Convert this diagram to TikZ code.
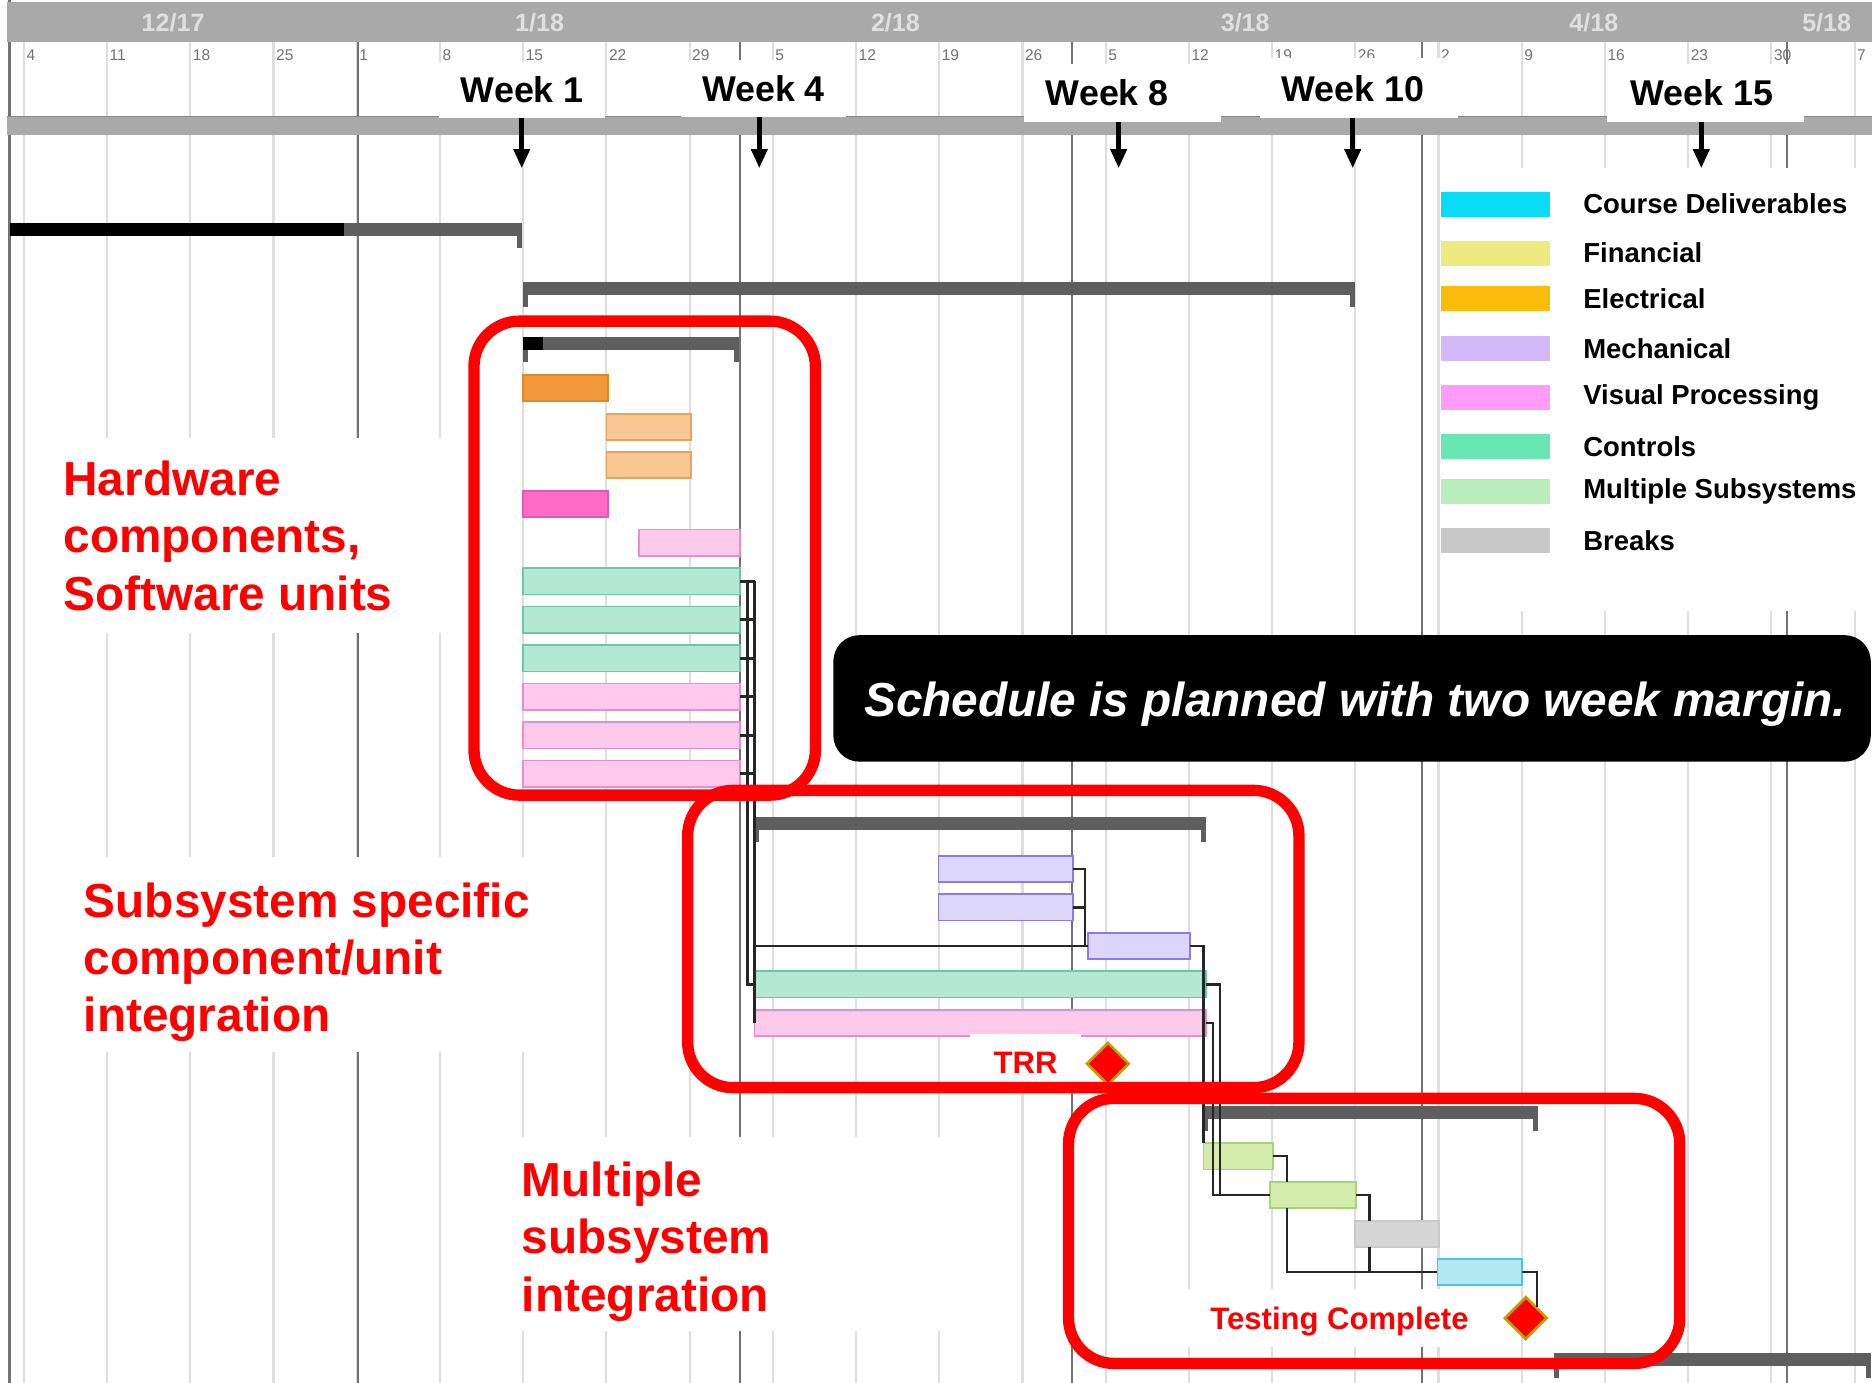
\documentclass[tikz,border=0pt]{standalone}
\usepackage{fontspec}
\setmainfont{Liberation Sans}
\usetikzlibrary{arrows.meta,shapes.geometric}
\definecolor{gridlt}{HTML}{DEDEDE}
\definecolor{griddk}{HTML}{727272}
\definecolor{bandgray}{HTML}{A9A9A9}
\definecolor{sumgray}{HTML}{5E5E5E}
\definecolor{msgold}{HTML}{BFA200}
% bar fills (F) and borders (D)
\definecolor{elecdoneF}{HTML}{F0983A}\definecolor{elecdoneD}{HTML}{E3862A}
\definecolor{elecF}{HTML}{F8C894}\definecolor{elecD}{HTML}{E9A35A}
\definecolor{visdoneF}{HTML}{FF6CC8}\definecolor{visdoneD}{HTML}{E455B4}
\definecolor{visF}{HTML}{FFC9EC}\definecolor{visD}{HTML}{E98DCF}
\definecolor{ctrlF}{HTML}{B3E8D2}\definecolor{ctrlD}{HTML}{6DC79F}
\definecolor{mechF}{HTML}{DCD5FC}\definecolor{mechD}{HTML}{8A7BE6}
\definecolor{multF}{HTML}{D3ECAC}\definecolor{multD}{HTML}{A7D37B}
\definecolor{brkF}{HTML}{D6D6D6}\definecolor{brkD}{HTML}{C8C8C8}
\definecolor{delivF}{HTML}{B1E9F2}\definecolor{delivD}{HTML}{4EC5DC}
% legend swatches
\definecolor{keyA}{HTML}{0ADCF5}
\definecolor{keyB}{HTML}{EDEA80}
\definecolor{keyC}{HTML}{FBBB0A}
\definecolor{keyD}{HTML}{D3B8FA}
\definecolor{keyE}{HTML}{FF9BF9}
\definecolor{keyF}{HTML}{68E6B4}
\definecolor{keyG}{HTML}{B9EDBA}
\definecolor{keyH}{HTML}{C8C8C8}

\tikzset{
  wkline/.style={draw=gridlt,line width=1.8pt},
  monline/.style={draw=griddk,line width=1.8pt},
  mlabel/.style={inner sep=0,text=white!88!black,font=\fontsize{21}{21}\selectfont\bfseries},
  dlabel/.style={anchor=west,inner sep=0,text=black!55,font=\fontsize{13}{13}\selectfont},
  wkbox/.style={fill=white,inner sep=0,font=\fontsize{30}{30}\selectfont\bfseries},
  wkarrow/.style={-{Triangle[width=13pt,length=16pt]},line width=4pt},
  keytext/.style={anchor=west,inner sep=0,font=\fontsize{23}{23}\selectfont\bfseries},
  note/.style={anchor=north west,inner sep=0,align=left,text=red,
    font=\fontsize{40}{48}\selectfont\bfseries},
  task/.style={fill=#1F,draw=#1D,line width=1.5pt,anchor=west,minimum height=22pt,
    inner sep=0,outer sep=0},
  sumbar/.style={fill=sumgray,anchor=west,minimum height=11pt,inner sep=0,outer sep=0},
  link/.style={draw=black!85,line width=2pt},
  mstone/.style={diamond,fill=red,draw=msgold,line width=2.2pt,minimum size=36pt,inner sep=0},
  mslabel/.style={fill=white,inner sep=0,text=red,text depth=0pt,
    font=\fontsize{26}{26}\selectfont\bfseries},
  grp/.style={draw=red,line width=9.5pt,rounded corners=38pt}
}

\begin{document}
\begin{tikzpicture}[x=1pt,y=-1pt]
\useasboundingbox (0,0) rectangle (1568,1158);
\fill[white] (0,0) rectangle (1568,1158);

% week and month grid
\foreach \k in {0,...,22}
{\draw[wkline] ({20+69.7*\k},35)--({20+69.7*\k},1158);}
\foreach \x in {300,620,898,1191,1497}
{\draw[monline] (\x,35)--(\x,1158);}
\draw[monline] (8,0)--(8,1158);

% timescale header
\fill[bandgray] (6,2) rectangle (1568,35);
\fill[bandgray] (6,97) rectangle (1568,113);
\draw[bandgray!80!black,line width=1.5pt] (6,97.5)--(1568,97.5);
\foreach \x/\m/\yy [count=\i] in {145/12/17,452/1/18,750/2/18,1043/3/18,1335/4/18,1530/5/18}
{\node[mlabel] (mo\i) at (\x,19) {\m/\yy};}
\foreach \d [count=\k from 0] in {4,11,18,25,1,8,15,22,29,5,12,19,26,5,12,19,26,2,9,16,23,30,7}
{\node[dlabel] (dy\k) at ({22+69.7*\k},46) {\d};}

% week call-outs
\node[wkbox,minimum width=139pt,minimum height=47pt] (w1) at (437.5,75.5) {Week 1};
\node[wkbox,minimum width=139pt,minimum height=48pt] (w4) at (639.5,74) {Week 4};
\node[wkbox,minimum width=165pt,minimum height=48pt] (w8) at (940.5,78) {\hspace*{-26pt}Week 8};
\node[wkbox,minimum width=166pt,minimum height=50pt] (w10) at (1138,74) {\hspace*{-10pt}Week 10};
\node[wkbox,minimum width=165pt,minimum height=48pt] (w15) at (1428.5,78) {\hspace*{-6pt}Week 15};
\coordinate (t1) at (437,141);
\coordinate (t4) at (636,141);
\coordinate (t8) at (937,141);
\coordinate (t10) at (1133,141);
\coordinate (t15) at (1425,141);
\foreach \w in {1,4,8,10,15}
{\draw[wkarrow] (w\w.south -| t\w)--(t\w);}

% legend
\fill[white] (1208,141) rectangle (1568,512);
\foreach \y/\cl/\t [count=\i] in {171/keyA/Course Deliverables,212/keyB/Financial,
  250/keyC/Electrical,292/keyD/Mechanical,333/keyE/Visual Processing,
  374/keyF/Controls,412/keyG/Multiple Subsystems,453/keyH/Breaks}
{\fill[\cl] (1207,\y-10.5) rectangle (1298,\y+10.5);
 \node[keytext] (key\i) at (1326,\y) {\t};}

% phase notes
\fill[white] (35,367) rectangle (385,530);
\node[note] (hw) at (53,386) {Hardware\\components,\\Software units};
\fill[white] (50,718) rectangle (455,881);
\node[note] (ss) at (70,739) {Subsystem specific\\component/unit\\integration};
\fill[white] (430,952) rectangle (800,1115);
\node[note] (ms) at (437,973) {Multiple\\subsystem\\integration};

% summary bars
\node[sumbar,minimum width=429pt] (s0) at (8,192.5) {};
\fill (8,187) rectangle (288,198);
\node[sumbar,minimum width=697pt] (s1) at (438,241.5) {};
\node[sumbar,minimum width=181pt] (s2) at (438,287.5) {};
\fill (438,282) rectangle (455,293);
\node[sumbar,minimum width=378pt] (s3) at (632,689.5) {};
\node[sumbar,minimum width=280pt] (s4) at (1008,932) {};
\node[sumbar,minimum width=265pt] (s5) at (1302,1139) {};
\foreach \s in {s1,s2,s3,s4,s5}
{\fill[sumgray] (\s.south west) rectangle ++(4,10);}
\foreach \s in {s0,s1,s2,s3,s4,s5}
{\fill[sumgray] (\s.south east) rectangle ++(-4,10);}

% task bars
\foreach \nm/\cl/\xs/\len/\yc in {
  e1/elecdone/438/71/325, e2/elec/508/71/357.5, e3/elec/508/71/389.5,
  v1/visdone/438/71/422, v2/vis/535/85/454.5,
  c1/ctrl/438/182/487, c2/ctrl/438/182/519, c3/ctrl/438/182/551.5,
  v3/vis/438/182/583.5, v4/vis/438/182/616, v5/vis/438/182/648,
  m1/mech/786/113/728, m2/mech/786/113/760, m3/mech/911/86/792.5,
  cg/ctrl/632/378/824.5, vg/vis/632/378/857,
  i1/mult/1008/58/968.5, i2/mult/1064/72/1001,
  br/brk/1135/70/1033.5, cd/deliv/1204/71/1065.5}
{\node[task=\cl,minimum width=\len] (\nm) at (\xs,\yc) {};}

% links out of the first group
\foreach \r in {c1,c2,c3,v3,v4,v5}
{\draw[link] (\r.east)--++(12,0);}
\draw[link] (c1.east) ++(6,0) |- (cg.west);
\draw[link] (c1.east) ++(12,0) |- (vg.west);
\draw[link] (c1.east) ++(12,0) |- (m3.west);
% second group
\draw[link] (m1.east)--++(10,0) |- (m3.west);
\draw[link] (m2.east)--++(10,0) |- (m3.west);
\draw[link] (m3.east) -| (i1.north west);
\draw[link] (cg.east)--++(12,0) |- (i2.west);
\draw[link] (vg.east)--++(6,0) |- (i2.west);
% third group
\draw[link] (i1.east)--++(12,0) coordinate (j1)--(j1 |- i2.north);
\draw[link] (j1 |- i2.south) |- (cd.west);
\draw[link] (i2.east)--++(11,0) coordinate (j2)--(j2 |- br.north);
\draw[link] (j2 |- br.south) |- (cd.west);

% milestones
\node[mslabel,minimum width=93pt,minimum height=48pt] (trrl) at (859,890) {TRR};
\node[mslabel,minimum width=270pt,minimum height=49pt] (tcl) at (1122,1104) {Testing Complete};
\node[mstone] (trr) at (928,891) {};
\node[mstone] (tc) at (1278,1104) {};
\draw[link] (cd.east) -| (tc.north east);

% phase frames
\draw[grp] (397,269) rectangle (683,666);
\draw[grp] (576,662) rectangle (1088,911);
\draw[grp] (895,920) rectangle (1407,1142);

% margin banner
\fill[black,rounded corners=22pt] (698,532) rectangle (1567,638);
\node[anchor=base,inner sep=0,text=white,font=\fontsize{40}{40}\selectfont\bfseries\itshape]
  (sched) at (1135,600) {Schedule is planned with two week margin.};
\end{tikzpicture}
\end{document}
